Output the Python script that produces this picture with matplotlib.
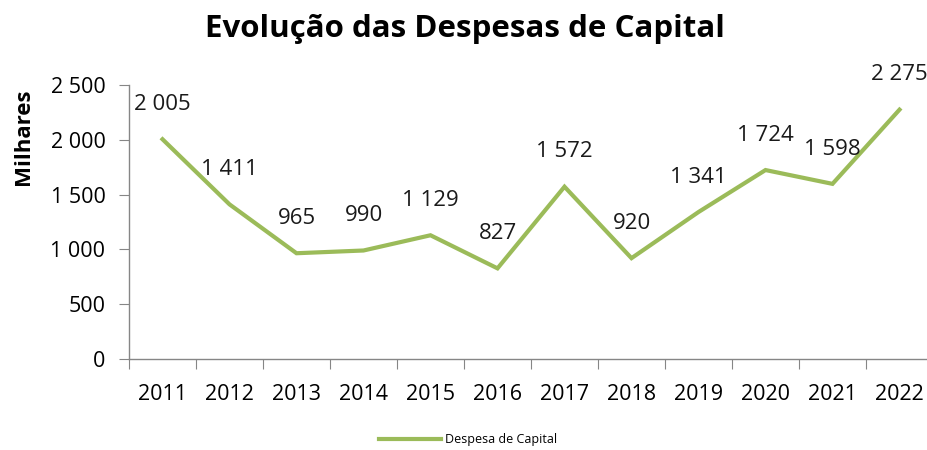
import matplotlib
matplotlib.use("Agg")
import matplotlib.pyplot as plt

years = ["2011", "2012", "2013", "2014", "2015", "2016", "2017", "2018", "2019", "2020", "2021", "2022"]
values = [2005, 1411, 965, 990, 1129, 827, 1572, 920, 1341, 1724, 1598, 2275]
yticks = [0, 500, 1000, 1500, 2000, 2500]

def fmt(v):
    return f"{v:,}".replace(",", " ")

plt.rcParams['font.family'] = ['Open Sans', 'DejaVu Sans']

W, H = 927, 450
fig = plt.figure(figsize=(W/100, H/100), dpi=100)
left, right, top, bottom = 129, 933, 85, 359
ax = fig.add_axes([left/W, 1 - bottom/H, (right-left)/W, (bottom-top)/H])

x = list(range(len(years)))
green = "#9BBB59"
line, = ax.plot(x, values, color=green, lw=3.0, solid_joinstyle='miter', label="Despesa de Capital")
for xi, v in zip(x, values):
    ax.annotate(fmt(v), (xi, v), xytext=(0, 25), textcoords='offset points',
                ha='center', va='center', fontsize=16, color='#1a1a1a')

ax.set_xlim(-0.5, len(years) - 0.5)
ax.set_ylim(0, 2500)
ax.set_yticks(yticks)
ax.set_yticklabels([fmt(t) for t in yticks], fontsize=15.5)
ax.set_xticks([i - 0.5 for i in range(len(years) + 1)], minor=False)
ax.set_xticklabels([])
ax.set_xticks(x, minor=True)
ax.set_xticklabels(years, minor=True, fontsize=15.5)
ax.tick_params(axis='x', which='minor', length=0, pad=18)
ax.tick_params(axis='x', which='major', length=7, color='#868686')
ax.tick_params(axis='y', length=7, color='#868686', pad=10)
for s in ['top', 'right']:
    ax.spines[s].set_visible(False)
for s in ['left', 'bottom']:
    ax.spines[s].set_color('#868686')
    ax.spines[s].set_linewidth(1.0)
ax.patch.set_visible(False)

fig.text(465/W, 1 - 29/H, "Evolução das Despesas de Capital", ha='center', va='center',
         fontsize=22.5, fontweight='bold')
fig.text(24/W, 1 - 137/H, "Milhares", rotation=90, ha='center', va='center',
         fontsize=16, fontweight='bold')

leg = fig.legend(handles=[line], loc='center', bbox_to_anchor=(468/W, 1 - 440/H),
                 frameon=False, fontsize=9, handlelength=5.0, handletextpad=0.3)

fig.savefig("out.png", dpi=100)
